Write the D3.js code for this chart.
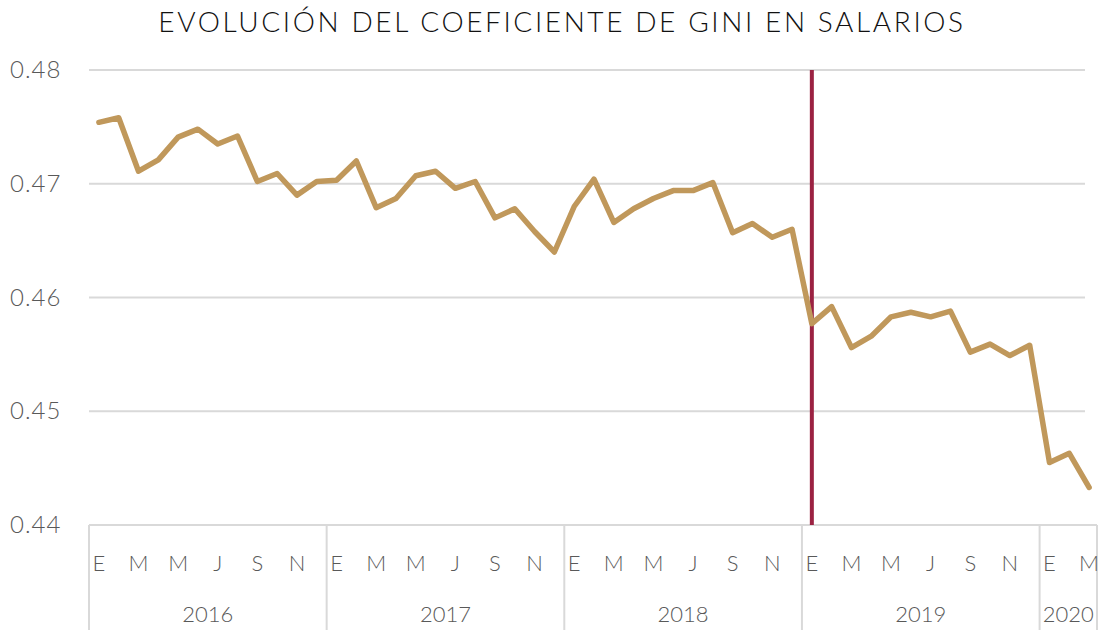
<!DOCTYPE html>
<html>
<head>
<meta charset="utf-8">
<script src="https://cdn.jsdelivr.net/npm/d3@7"></script>
<style>
  html, body { margin: 0; padding: 0; background: #fff; }
  svg { display: block; font-family: "Lato", "Open Sans", sans-serif; }
</style>
</head>
<body>
<svg id="chart" width="1103" height="630"></svg>
<script>
// Monthly Gini coefficient of wages, Jan 2016 – Mar 2020
const years = ["2016", "2017", "2018", "2019", "2020"];
const monthLetters = ["E", "F", "M", "A", "M", "J", "J", "A", "S", "O", "N", "D"];
const gini2016 = [0.4754, 0.4758, 0.4711, 0.4721, 0.4741, 0.4748, 0.4735, 0.4742, 0.4702, 0.4709, 0.4690, 0.4702];
const gini2017 = [0.4703, 0.4720, 0.4679, 0.4687, 0.4707, 0.4711, 0.4696, 0.4702, 0.4670, 0.4678, 0.4658, 0.4640];
const gini2018 = [0.4680, 0.4704, 0.4666, 0.4678, 0.4687, 0.4694, 0.4694, 0.4701, 0.4657, 0.4665, 0.4653, 0.4660];
const gini2019 = [0.4577, 0.4592, 0.4556, 0.4566, 0.4583, 0.4587, 0.4583, 0.4588, 0.4552, 0.4559, 0.4549, 0.4558];
const gini2020 = [0.4455, 0.4463, 0.4433];
const yTicks = [0.44, 0.45, 0.46, 0.47, 0.48];
const markerMonth = { year: "2019", month: 0 };

const seriesByYear = [gini2016, gini2017, gini2018, gini2019, gini2020];
const data = [];
seriesByYear.forEach((vals, yi) => {
  vals.forEach((v, m) => data.push({ i: data.length, year: years[yi], month: m, value: v }));
});

const svg = d3.select("#chart");
const plotLeft = 89, plotRight = 1099, plotTop = 70, plotBottom = 525;

const x = d3.scaleBand().domain(data.map(d => d.i)).range([plotLeft, plotRight]).paddingInner(0).paddingOuter(0);
const y = d3.scaleLinear().domain([0.44, 0.48]).range([plotBottom, plotTop]);
const cx = i => x(i) + x.bandwidth() / 2;

// Title
svg.append("text")
  .attr("x", 562).attr("y", 32)
  .attr("text-anchor", "middle")
  .attr("font-size", 28)
  .attr("font-weight", 300)
  .attr("letter-spacing", 2.6)
  .attr("fill", "#111")
  .text("EVOLUCIÓN DEL COEFICIENTE DE GINI EN SALARIOS");

// Horizontal gridlines
svg.append("g").selectAll("line").data(yTicks.slice(1)).join("line")
  .attr("x1", plotLeft).attr("x2", plotRight - 14)
  .attr("y1", d => y(d)).attr("y2", d => y(d))
  .attr("stroke", "#d9d9d9").attr("stroke-width", 2);

// Y tick labels
svg.append("g").selectAll("text").data(yTicks).join("text")
  .attr("x", 10).attr("y", d => y(d) + 8)
  .attr("font-size", 24).attr("font-weight", 300)
  .attr("letter-spacing", 1)
  .attr("fill", "#595959")
  .text(d => d3.format(".2f")(d));

// Category axis line and year separators
svg.append("line")
  .attr("x1", plotLeft).attr("x2", plotRight - 2)
  .attr("y1", plotBottom).attr("y2", plotBottom)
  .attr("stroke", "#d9d9d9").attr("stroke-width", 2);

const yearStarts = years.map(yr => data.find(d => d.year === yr).i);
const sepX = yearStarts.map(i => x(i)).concat([plotRight - 2]);
svg.append("g").selectAll("line").data(sepX).join("line")
  .attr("x1", d => d).attr("x2", d => d)
  .attr("y1", plotBottom).attr("y2", 630)
  .attr("stroke", "#d9d9d9").attr("stroke-width", 2);

// Month labels every other month
svg.append("g").selectAll("text").data(data.filter(d => d.month % 2 === 0)).join("text")
  .attr("x", d => cx(d.i)).attr("y", 571)
  .attr("text-anchor", "middle")
  .attr("font-size", 22).attr("font-weight", 300)
  .attr("fill", "#595959")
  .text(d => monthLetters[d.month]);

// Year labels centered in their spans
svg.append("g").selectAll("text").data(years).join("text")
  .attr("x", (d, k) => (sepX[k] + sepX[k + 1]) / 2).attr("y", 622)
  .attr("text-anchor", "middle")
  .attr("font-size", 22).attr("font-weight", 300)
  .attr("fill", "#595959")
  .text(d => d);

// Vertical marker at January 2019
const mk = data.find(d => d.year === markerMonth.year && d.month === markerMonth.month);
svg.append("line")
  .attr("x1", cx(mk.i)).attr("x2", cx(mk.i))
  .attr("y1", plotTop).attr("y2", plotBottom)
  .attr("stroke", "#9b2242").attr("stroke-width", 4);

// Gini series line
svg.append("path")
  .datum(data)
  .attr("fill", "none")
  .attr("stroke", "#c0985b")
  .attr("stroke-width", 5.5)
  .attr("stroke-linejoin", "round")
  .attr("stroke-linecap", "round")
  .attr("d", d3.line().x(d => cx(d.i)).y(d => y(d.value)));
</script>
</body>
</html>
